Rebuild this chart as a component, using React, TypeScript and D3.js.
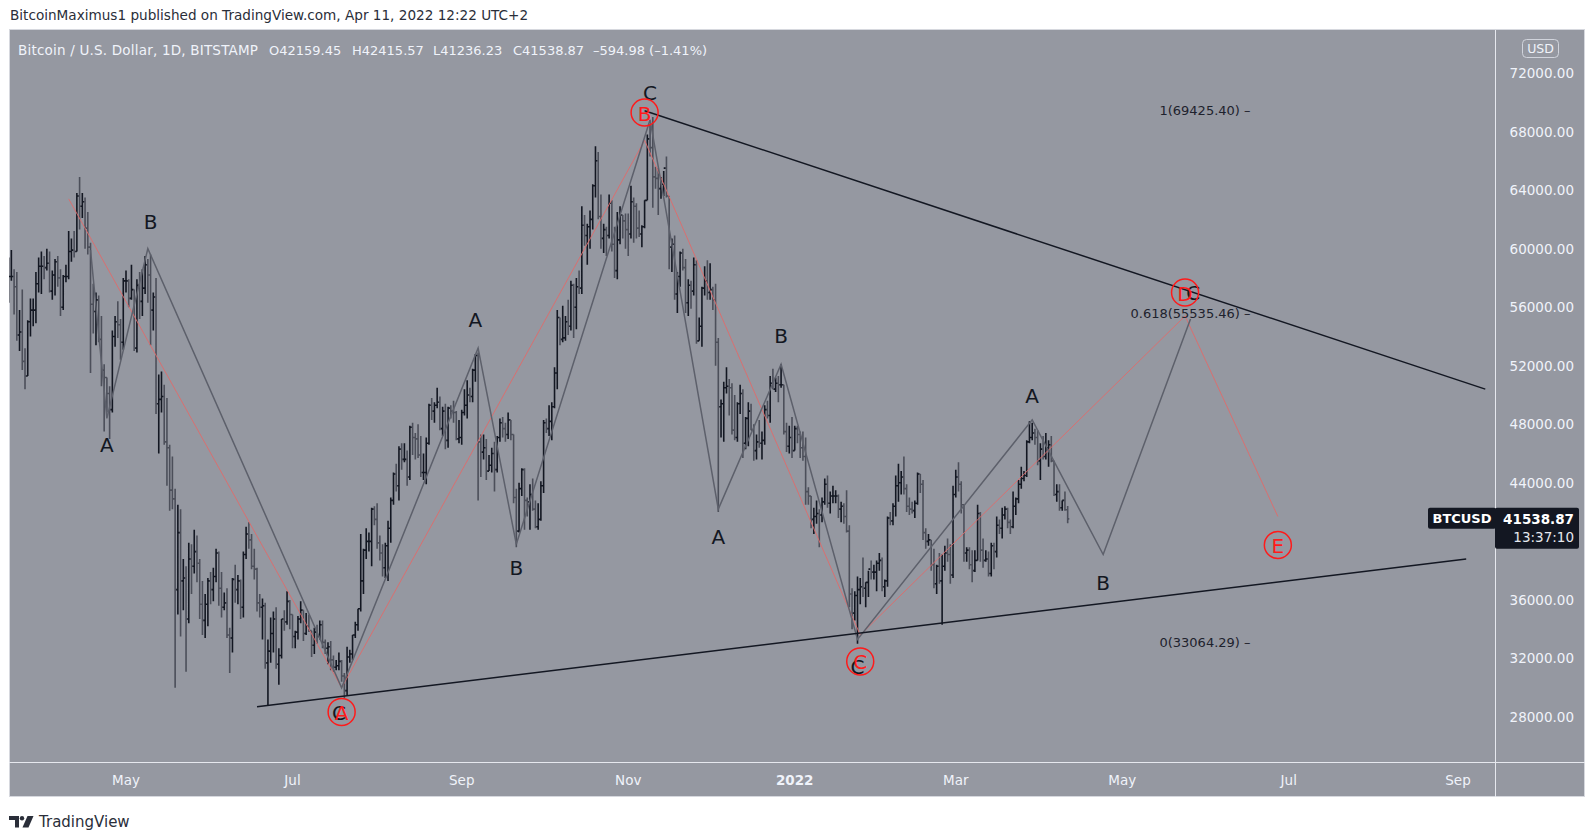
import React from 'react';
import * as d3 from 'd3';

const W = 1595;
const H = 837;

// BTCUSD daily bars (Bitstamp), values in thousands of USD.
// One row per calendar month, the first row starts on 19 Mar 2021.
const barStart = { year: 2021, month: 2, day: 19 };
const firstOpen = 57.6;

const highs: number[][] = [
  [59.4, 59.9, 58.6, 58.4, 55.8, 57.2, 53.2, 55.1, 56.6, 56.6, 58.4, 59.4, 59.8],
  [59.5, 60.0, 59.8, 58.5, 59.3, 59.5, 58.6, 58.2, 58.9, 61.2, 60.7, 61.2, 63.8, 64.9, 63.8, 63.5, 62.5, 60.4, 57.6, 57.0, 56.8, 55.4, 52.1, 51.2, 50.6, 54.4, 55.4, 56.4, 55.2, 58.0],
  [58.5, 57.9, 58.9, 57.2, 57.9, 58.4, 58.6, 59.5, 59.3, 59.6, 57.0, 58.0, 51.4, 51.6, 50.7, 49.8, 46.6, 45.8, 43.6, 42.5, 42.2, 38.8, 38.3, 39.9, 39.8, 40.8, 40.4, 38.8, 37.3, 36.4, 37.5],
  [37.9, 38.2, 39.5, 39.3, 37.9, 36.5, 36.8, 34.1, 37.5, 38.4, 37.7, 37.4, 39.3, 41.0, 41.3, 40.5, 39.5, 38.2, 36.4, 36.1, 35.8, 33.3, 34.8, 35.2, 35.5, 32.7, 34.7, 35.3, 36.6, 36.0],
  [35.0, 33.9, 34.9, 35.9, 35.3, 35.1, 35.0, 33.9, 34.1, 34.3, 34.6, 34.6, 33.3, 33.1, 33.2, 32.2, 31.9, 32.4, 31.9, 31.0, 32.8, 32.6, 33.6, 34.5, 35.4, 40.5, 39.5, 40.9, 40.6, 42.3, 42.4],
  [42.6, 40.4, 39.8, 39.9, 41.4, 43.0, 44.7, 45.3, 46.5, 46.7, 46.7, 46.2, 47.9, 48.1, 47.4, 48.0, 47.2, 46.0, 47.1, 49.4, 49.8, 49.5, 50.5, 49.9, 49.2, 49.4, 49.2, 49.3, 49.6, 48.9, 48.3],
  [49.0, 50.4, 51.0, 50.5, 51.8, 52.8, 52.9, 47.3, 47.3, 47.0, 45.9, 46.4, 46.8, 47.2, 48.4, 48.5, 48.1, 48.8, 48.3, 47.3, 43.6, 44.0, 45.0, 45.0, 43.0, 43.9, 44.3, 42.8, 42.6, 44.1],
  [48.3, 48.4, 49.3, 49.5, 51.9, 55.8, 55.3, 56.1, 55.4, 56.5, 57.8, 57.6, 58.0, 58.5, 62.9, 62.3, 61.7, 62.6, 64.4, 67.0, 66.6, 63.7, 61.7, 61.5, 63.7, 63.3, 61.5, 62.5, 62.9, 62.3, 62.4],
  [62.4, 64.3, 63.5, 63.1, 62.6, 61.6, 63.3, 67.8, 68.5, 69.0, 65.6, 65.5, 64.9, 65.3, 66.3, 63.6, 60.7, 60.9, 58.4, 59.8, 60.0, 59.3, 57.9, 57.8, 59.4, 59.2, 55.3, 57.4, 58.8, 59.2],
  [59.0, 57.4, 57.6, 53.9, 49.7, 50.9, 51.9, 51.1, 50.8, 50.0, 49.5, 50.7, 50.4, 48.5, 49.5, 49.4, 48.0, 47.3, 48.3, 47.5, 49.3, 49.6, 51.3, 51.8, 51.2, 51.3, 52.1, 50.7, 48.1, 47.9, 48.5],
  [47.9, 47.9, 47.5, 47.5, 47.1, 43.7, 43.1, 42.3, 42.8, 42.2, 43.0, 44.3, 44.5, 43.4, 43.8, 43.5, 43.2, 42.7, 42.6, 43.5, 41.1, 36.8, 36.6, 37.6, 37.5, 38.9, 37.2, 38.0, 38.7, 38.4, 38.7],
  [39.2, 38.9, 37.4, 41.7, 42.0, 42.6, 44.5, 45.3, 44.8, 45.8, 43.9, 43.0, 42.7, 42.8, 44.7, 44.6, 44.2, 40.9, 40.5, 40.1, 39.5, 38.4, 39.2, 39.1, 39.7, 40.2, 39.8, 43.8],
  [44.9, 45.4, 44.1, 42.5, 39.6, 39.6, 39.4, 39.4, 42.5, 42.0, 40.2, 39.4, 39.3, 39.9, 39.9, 41.7, 41.5, 42.3, 42.4, 42.3, 41.5, 43.4, 43.0, 44.2, 45.1, 44.8, 46.9, 48.2, 48.1, 47.7, 47.6],
  [46.7, 47.2, 47.4, 46.9, 47.2, 45.5, 43.9, 43.9, 42.8, 43.4, 42.41557],
];

const lows: number[][] = [
  [56.3, 57.8, 55.5, 53.7, 53.0, 51.7, 50.4, 51.3, 54.0, 54.7, 54.9, 57.0, 56.9],
  [57.9, 58.5, 57.0, 56.5, 56.8, 57.4, 55.4, 55.8, 57.7, 57.9, 59.1, 59.4, 59.8, 61.3, 62.1, 60.0, 59.6, 51.5, 54.2, 53.4, 53.6, 50.6, 47.5, 48.8, 47.0, 48.8, 53.3, 53.9, 52.4, 53.1],
  [57.0, 56.0, 56.5, 53.0, 52.9, 55.2, 55.4, 56.9, 56.3, 53.4, 54.4, 48.7, 46.0, 48.8, 46.6, 43.8, 42.1, 42.2, 30.0, 35.0, 33.5, 35.3, 31.1, 34.4, 36.4, 37.8, 37.2, 34.7, 33.6, 33.4, 34.2],
  [35.7, 35.9, 37.2, 35.6, 34.8, 35.3, 33.4, 31.0, 32.4, 35.8, 35.7, 34.7, 34.8, 38.8, 39.5, 38.1, 37.4, 35.2, 34.8, 33.3, 31.3, 28.8, 31.7, 32.4, 31.3, 30.2, 32.0, 33.9, 34.3, 34.0],
  [32.7, 32.7, 33.3, 34.4, 33.2, 33.6, 33.8, 32.1, 32.3, 33.0, 33.3, 32.7, 32.3, 31.6, 31.2, 31.1, 31.2, 31.2, 30.4, 29.3, 29.5, 31.7, 31.9, 33.4, 33.9, 35.2, 36.4, 38.8, 39.3, 38.3, 41.1],
  [39.5, 38.7, 37.6, 37.5, 37.3, 39.9, 42.5, 43.4, 42.8, 44.9, 45.4, 43.8, 44.2, 45.9, 45.6, 45.7, 44.4, 44.2, 43.9, 46.6, 48.3, 48.1, 49.1, 47.6, 47.2, 46.3, 46.4, 48.4, 48.1, 46.9, 46.7],
  [46.6, 48.6, 48.4, 49.5, 49.5, 50.9, 42.8, 44.4, 45.6, 44.2, 44.8, 44.7, 43.4, 44.7, 46.8, 47.1, 46.8, 47.0, 46.9, 42.6, 39.6, 40.6, 43.1, 40.8, 41.7, 40.8, 42.1, 40.9, 40.8, 41.4],
  [43.3, 47.4, 47.2, 46.9, 49.1, 50.4, 53.4, 53.6, 53.7, 54.1, 54.4, 53.9, 54.5, 56.9, 56.9, 60.2, 58.9, 60.0, 61.3, 63.5, 62.0, 60.0, 59.7, 59.5, 60.7, 59.8, 58.0, 57.9, 60.3, 60.7, 60.0],
  [59.5, 60.7, 60.4, 60.7, 60.8, 60.1, 61.4, 63.3, 66.3, 62.8, 64.1, 62.3, 63.4, 63.6, 63.5, 58.6, 58.4, 56.5, 55.6, 57.4, 58.5, 55.6, 55.4, 55.9, 56.8, 53.5, 53.7, 53.3, 56.8, 56.5],
  [56.5, 55.8, 52.0, 42.0, 47.1, 46.8, 50.1, 48.6, 47.3, 46.9, 46.8, 48.7, 45.7, 46.3, 46.5, 47.6, 45.5, 45.6, 46.4, 45.6, 46.6, 48.4, 48.1, 50.4, 50.2, 49.5, 50.5, 47.3, 46.1, 46.0, 45.7],
  [46.2, 46.7, 45.7, 45.5, 42.5, 42.5, 40.9, 40.5, 41.2, 39.6, 41.3, 42.5, 42.3, 41.9, 42.6, 42.6, 41.6, 41.3, 41.2, 40.6, 35.5, 34.0, 34.6, 33.0, 35.7, 36.2, 35.5, 36.2, 37.4, 37.4, 36.6],
  [38.0, 36.6, 36.2, 36.9, 41.1, 41.1, 41.7, 42.7, 43.2, 43.2, 42.0, 41.8, 41.9, 41.6, 42.5, 43.3, 40.1, 39.5, 39.7, 38.0, 36.8, 36.4, 37.1, 34.3, 38.0, 38.6, 37.1, 37.5],
  [43.0, 43.4, 41.9, 38.6, 38.6, 38.1, 37.2, 37.9, 38.7, 38.6, 38.2, 38.6, 37.6, 37.6, 38.1, 38.9, 40.5, 40.2, 41.5, 40.9, 40.5, 40.9, 41.8, 42.6, 43.6, 44.1, 44.4, 46.7, 46.9, 46.6, 45.2],
  [44.2, 45.6, 45.6, 45.1, 45.4, 43.1, 42.7, 42.1, 42.1, 42.1, 41.23623],
];

const closes: number[][] = [
  [58.1, 58.1, 57.4, 54.1, 54.3, 52.3, 51.3, 55.0, 55.8, 55.8, 57.6, 58.8, 58.8],
  [58.7, 59.0, 57.1, 58.2, 59.1, 58.0, 56.0, 58.1, 58.1, 59.8, 59.9, 59.8, 63.6, 62.9, 63.2, 61.4, 60.1, 56.2, 55.7, 56.5, 53.8, 51.7, 51.2, 50.1, 49.0, 54.0, 55.0, 54.8, 53.6, 57.8],
  [57.8, 56.6, 57.2, 53.2, 57.5, 56.4, 57.3, 58.9, 58.2, 55.8, 56.7, 49.4, 49.7, 49.9, 46.8, 46.4, 43.5, 42.9, 36.7, 40.6, 37.3, 37.5, 34.7, 38.8, 38.3, 39.3, 38.5, 35.7, 34.6, 35.7, 37.3],
  [36.7, 37.6, 39.2, 36.8, 35.5, 35.8, 33.6, 33.4, 37.4, 36.7, 37.3, 35.5, 39.1, 40.5, 40.1, 38.3, 38.1, 35.8, 35.5, 35.6, 31.7, 32.5, 33.7, 34.7, 31.6, 32.2, 34.7, 34.5, 35.9, 35.0],
  [33.5, 33.8, 34.7, 35.3, 33.7, 34.2, 33.9, 32.9, 33.8, 33.5, 34.3, 33.1, 32.7, 32.8, 31.9, 31.4, 31.5, 31.8, 30.8, 29.8, 32.1, 32.3, 33.6, 34.3, 35.4, 37.3, 39.4, 40.0, 40.0, 42.2, 41.5],
  [39.9, 39.2, 38.2, 39.7, 40.9, 42.8, 44.6, 43.8, 46.3, 45.6, 45.6, 44.4, 47.8, 47.1, 47.0, 45.9, 44.7, 44.7, 46.7, 49.3, 48.9, 49.3, 49.5, 47.7, 48.9, 46.9, 49.1, 48.9, 48.8, 47.0, 47.1],
  [48.8, 49.3, 50.0, 49.9, 51.7, 52.7, 46.8, 46.1, 46.4, 44.8, 45.2, 46.0, 44.9, 47.1, 48.1, 47.7, 47.3, 48.3, 47.3, 43.0, 40.7, 43.6, 44.9, 42.8, 42.7, 43.2, 42.2, 41.0, 41.5, 43.8],
  [48.1, 47.7, 48.2, 49.2, 51.5, 55.3, 53.8, 53.9, 55.0, 54.7, 57.5, 56.0, 57.4, 57.3, 61.6, 60.9, 61.5, 62.0, 64.3, 66.0, 62.2, 60.7, 61.3, 60.9, 63.1, 60.3, 58.5, 60.6, 62.3, 61.9, 61.3],
  [61.0, 63.2, 62.9, 61.4, 61.0, 61.5, 63.3, 67.5, 66.9, 64.9, 64.8, 64.1, 64.4, 65.5, 63.6, 60.1, 60.3, 56.9, 58.1, 59.7, 58.7, 56.3, 57.5, 57.1, 58.9, 53.7, 54.7, 57.3, 57.8, 57.0],
  [57.2, 56.5, 53.6, 49.2, 49.4, 50.5, 50.6, 50.5, 47.6, 47.1, 49.4, 50.1, 46.7, 48.4, 48.9, 47.6, 46.2, 46.8, 46.7, 46.9, 49.0, 48.6, 50.8, 50.4, 50.8, 50.7, 50.7, 47.5, 46.5, 47.1, 46.2],
  [47.7, 47.3, 46.4, 45.8, 43.4, 43.1, 41.5, 41.7, 41.9, 41.8, 42.7, 43.9, 42.6, 43.1, 43.1, 43.1, 42.2, 42.4, 41.7, 40.7, 36.4, 35.1, 36.3, 36.7, 36.9, 36.8, 37.2, 38.1, 37.9, 37.9, 38.5],
  [38.7, 36.9, 37.3, 41.6, 41.4, 42.4, 43.8, 44.0, 44.4, 43.6, 42.4, 42.2, 42.1, 42.6, 44.6, 43.9, 40.6, 40.0, 40.1, 38.4, 37.1, 38.3, 37.3, 38.3, 39.2, 39.1, 37.7, 43.2],
  [44.4, 43.9, 42.5, 39.2, 39.4, 38.4, 38.0, 38.7, 41.9, 39.4, 38.7, 38.8, 37.8, 39.7, 39.3, 41.1, 40.9, 41.8, 42.2, 41.3, 41.0, 42.4, 42.9, 43.9, 44.3, 44.5, 46.8, 47.1, 47.4, 47.1, 45.5],
  [46.3, 45.8, 46.4, 46.6, 45.5, 43.2, 43.4, 42.3, 42.8, 42.15945, 41.53887],
];

// 40000 sits behind the last-price box, so it is not listed
const priceTicks = [72000, 68000, 64000, 60000, 56000, 52000, 48000, 44000, 36000, 32000, 28000];
const monthTicks: [string, string][] = [
  ['2021-05-01', 'May'], ['2021-07-01', 'Jul'], ['2021-09-01', 'Sep'], ['2021-11-01', 'Nov'],
  ['2022-01-01', '2022'], ['2022-03-01', 'Mar'], ['2022-05-01', 'May'], ['2022-07-01', 'Jul'], ['2022-09-01', 'Sep'],
];

// drawings: [date, price]
const grayWave: [string, number][] = [
  ['2021-04-18', 59900], ['2021-04-24', 48400], ['2021-05-09', 60000], ['2021-07-19', 30000],
  ['2021-09-07', 53200], ['2021-09-21', 39800], ['2021-11-09', 68800], ['2021-12-04', 42200],
  ['2021-12-27', 52100], ['2022-01-24', 33300], ['2022-03-29', 48300], ['2022-04-24', 39100],
  ['2022-05-26', 55200],
];
const redWave: [string, number][] = [
  ['2021-04-10', 63400], ['2021-07-19', 30000], ['2021-11-07', 67400], ['2022-01-25', 33600],
  ['2022-05-24', 55400], ['2022-06-27', 41700],
];
const resistance: [string, number][] = [['2021-11-07', 69425.4], ['2022-09-11', 50400]];
const support: [string, number][] = [['2021-06-18', 28700], ['2022-09-04', 38800]];

const fibLevels: [string, number][] = [['1', 69425.40], ['0.618', 55535.46], ['0', 33064.29]];
const fibLabelDate = '2022-06-17';

const waveLabels: [string, number, string][] = [
  ['2021-04-24', 46600, 'A'], ['2021-05-10', 61800, 'B'], ['2021-07-18', 28300, 'C'],
  ['2021-09-06', 55100, 'A'], ['2021-09-21', 38200, 'B'], ['2021-11-09', 70600, 'C'],
  ['2021-12-04', 40300, 'A'], ['2021-12-27', 54000, 'B'], ['2022-01-24', 31400, 'C'],
  ['2022-03-29', 49900, 'A'], ['2022-04-24', 37150, 'B'], ['2022-05-27', 57000, 'C'],
];
const circleLabels: [string, number, string][] = [
  ['2021-07-19', 28350, 'A'], ['2021-11-07', 69300, 'B'], ['2022-01-25', 31800, 'C'],
  ['2022-05-24', 57000, 'D'], ['2022-06-27', 39750, 'E'],
];

const lastPrice = 41538.87;
const countdown = '13:37:10';

const utc = (s: string) => new Date(s + 'T00:00:00Z');

const BG = '#9598a1';
const TXT = '#f0f3fa';
const DARK = '#131722';
const FONT = 'DejaVu Sans, Verdana, sans-serif';

const plot = { left: 9, top: 30, right: 1495, bottom: 762 };

export default function App() {
  const x = d3.scaleUtc().domain([utc('2021-05-01'), utc('2022-09-01')]).range([126, 1458]);
  const y = d3.scaleLinear().domain([28000, 72000]).range([717, 73]);

  const bars: { date: Date; o: number; h: number; l: number; c: number }[] = [];
  let prev = firstOpen;
  highs.forEach((row, m) =>
    row.forEach((hi, j) => {
      const date = new Date(Date.UTC(barStart.year, barStart.month + m, (m === 0 ? barStart.day : 1) + j));
      const c = closes[m][j];
      bars.push({ date, o: prev * 1000, h: hi * 1000, l: lows[m][j] * 1000, c: c * 1000 });
      prev = c;
    })
  );

  const barPath = (up: boolean) =>
    bars
      .filter(b => (b.c >= b.o) === up)
      .map(b => {
        const bx = x(b.date);
        return `M${bx},${y(b.h)}V${y(b.l)}M${bx - 1.6},${y(b.o)}H${bx}M${bx},${y(b.c)}H${bx + 1.6}`;
      })
      .join('');

  const line = d3
    .line<[string, number]>()
    .x(d => x(utc(d[0])))
    .y(d => y(d[1]));

  const fibX = x(utc(fibLabelDate));
  const lastY = y(lastPrice);

  return (
    <div style={{ position: 'absolute', left: 0, top: 0 }}>
      <svg width={W} height={H} style={{ display: 'block', background: '#fff' }} fontFamily={FONT}>
        <defs>
          <clipPath id="plot">
            <rect x={plot.left} y={plot.top} width={plot.right - plot.left} height={plot.bottom - plot.top} />
          </clipPath>
        </defs>

        <text x={10} y={15} fontSize={13.6} fill="#2a2e39" dominantBaseline="central">
          BitcoinMaximus1 published on TradingView.com, Apr 11, 2022 12:22 UTC+2
        </text>

        {/* chart panel */}
        <rect x={9.5} y={29.5} width={1575} height={767} fill={BG} stroke="#d6d8de" />
        <line x1={1495.5} x2={1495.5} y1={30} y2={797} stroke="#e6e8ee" />
        <line x1={9} x2={1585} y1={762.5} y2={762.5} stroke="#e6e8ee" />

        <g fontSize={13} fill={TXT} dominantBaseline="central">
          <text x={18} y={50} fontSize={13.5} letterSpacing={0.2}>Bitcoin / U.S. Dollar, 1D, BITSTAMP</text>
          <text x={269} y={50}>O42159.45</text>
          <text x={352} y={50}>H42415.57</text>
          <text x={433} y={50}>L41236.23</text>
          <text x={513} y={50}>C41538.87</text>
          <text x={593} y={50}>–594.98 (–1.41%)</text>
        </g>

        <g clipPath="url(#plot)">
          <path d={barPath(false)} stroke="#4c4f5a" strokeWidth={1.6} fill="none" />
          <path d={barPath(true)} stroke={DARK} strokeWidth={1.6} fill="none" />

          <path d={line(redWave) ?? ''} fill="none" stroke="#e06a6a" strokeWidth={1} opacity={0.9} />
          <path d={line(grayWave) ?? ''} fill="none" stroke="#5d606b" strokeWidth={1.5} />
          <path d={line(resistance) ?? ''} fill="none" stroke={DARK} strokeWidth={1.5} />
          <path d={line(support) ?? ''} fill="none" stroke={DARK} strokeWidth={1.5} />

          {fibLevels.map(([r, p]) => (
            <text key={r} x={fibX} y={y(p)} fontSize={13} fill="#1e222d" textAnchor="end" dominantBaseline="central">
              {`${r}(${p.toFixed(2)}) –`}
            </text>
          ))}

          {waveLabels.map(([d, p, t], i) => (
            <text key={i} x={x(utc(d))} y={y(p)} fontSize={20} fill={DARK} textAnchor="middle" dominantBaseline="central">
              {t}
            </text>
          ))}

          {circleLabels.map(([d, p, t], i) => (
            <g key={i} transform={`translate(${x(utc(d))},${y(p)})`}>
              <circle r={13.5} fill="none" stroke="#ff1a1a" strokeWidth={1.5} />
              <text y={1} fontSize={20} fill="#ff1a1a" textAnchor="middle" dominantBaseline="central">
                {t}
              </text>
            </g>
          ))}
        </g>

        {/* price axis */}
        <g fontSize={13.5} fill={TXT} textAnchor="end" dominantBaseline="central">
          {priceTicks.map(t => (
            <text key={t} x={1574} y={y(t)}>
              {t.toFixed(2)}
            </text>
          ))}
        </g>
        <rect x={1522.5} y={39.5} width={36} height={18} rx={4} fill="none" stroke="#d1d4dc" />
        <text x={1540.5} y={48.5} fontSize={12.5} fill={TXT} textAnchor="middle" dominantBaseline="central">
          USD
        </text>

        <rect x={1428} y={lastY - 11} width={68} height={21} rx={2} fill={DARK} />
        <text x={1462} y={lastY} fontSize={13} fontWeight="bold" fill="#fff" textAnchor="middle" dominantBaseline="central">
          BTCUSD
        </text>
        <rect x={1495} y={lastY - 11} width={84} height={41} rx={2} fill={DARK} />
        <text x={1574} y={lastY} fontSize={13.5} fontWeight="bold" fill="#fff" textAnchor="end" dominantBaseline="central">
          {lastPrice.toFixed(2)}
        </text>
        <text x={1574} y={lastY + 18} fontSize={13.5} fill="#e6e8ee" textAnchor="end" dominantBaseline="central">
          {countdown}
        </text>

        {/* time axis */}
        <g fontSize={13.5} fill={TXT} textAnchor="middle" dominantBaseline="central">
          {monthTicks.map(([d, label]) => (
            <text key={d} x={x(utc(d))} y={780} fontWeight={label === '2022' ? 'bold' : 'normal'}>
              {label}
            </text>
          ))}
        </g>

        {/* TradingView logo */}
        <g fill="#2a2e39">
          <path d="M9,816h10v11.5h-4v-7.5h-6z" />
          <circle cx={22} cy={818.2} r={2.2} />
          <path d="M27.5,816h6l-5,11.5h-6z" />
        </g>
        <text x={39} y={822} fontSize={15} fill="#2a2e39" dominantBaseline="central">
          TradingView
        </text>
      </svg>
    </div>
  );
}
